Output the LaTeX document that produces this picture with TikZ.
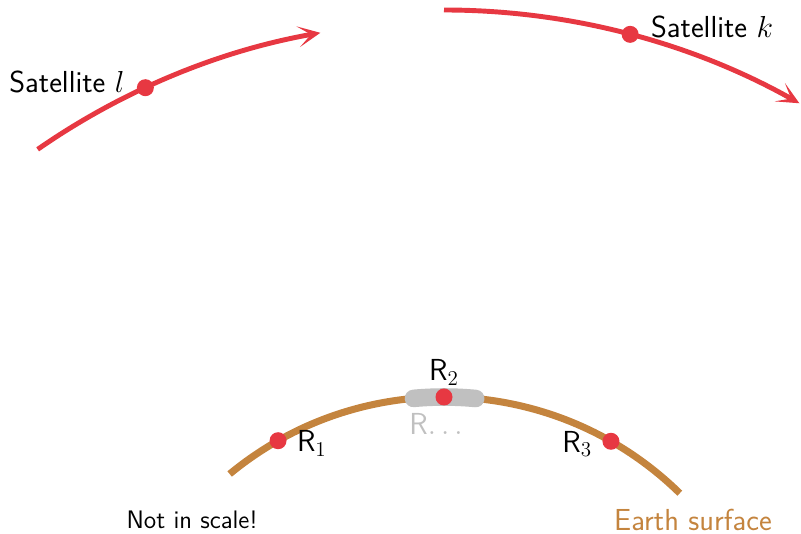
\documentclass[tikz,border=0pt]{standalone}
\usetikzlibrary{positioning,arrows.meta}

\definecolor{satred}{RGB}{231,56,66}
\definecolor{earthbrown}{RGB}{196,132,62}
\definecolor{relaygray}{RGB}{192,192,192}

\begin{document}
\begin{tikzpicture}[
  font=\sffamily\fontsize{17.3}{20}\selectfont,
  orbit/.style={draw=satred,line width=2.8pt,-{Stealth[length=4.5mm,width=4.2mm,inset=2.6mm]}},
  ground/.style={draw=earthbrown,line width=4pt},
  relayband/.style={draw=relaygray,line width=10pt,line cap=round},
  dot/.style={circle,fill=satred,minimum size=0.34cm,inner sep=0pt},
  lbl/.style={inner sep=1pt}
]
\useasboundingbox (-8.88,4.0) rectangle (7.14,14.68);
% earth surface and the relay band
\draw[ground] (129.5:6.74) arc[start angle=129.5,end angle=45.6,radius=6.74];
\draw[relayband] (95.2:6.74) arc[start angle=95.2,end angle=84.6,radius=6.74];
% satellite orbits
\draw[orbit] (124.8:14.24) arc[start angle=124.8,end angle=100,radius=14.24];
\draw[orbit] (90:14.48) arc[start angle=90,end angle=60.6,radius=14.48];
% satellites
\node[dot] (satl) at (114.8:14.24) {};
\node[dot] (satk) at (75.1:14.48) {};
\node[lbl,left=0.2cm of satl,yshift=0.12cm] (labl) {Satellite $l$};
\node[lbl,right=0.2cm of satk,yshift=0.15cm] (labk) {Satellite $k$};
% receivers
\node[dot] (r1) at (119.5:6.74) {};
\node[dot] (r2) at (90:6.74) {};
\node[dot] (r3) at (60.3:6.74) {};
\node[lbl,right=0.16cm of r1,yshift=-0.05cm] (labr1) {R$_1$};
\node[lbl,above=0.02cm of r2] (labr2) {R$_2$};
\node[lbl,left=0.16cm of r3,yshift=-0.05cm] (labr3) {R$_3$};
\node[lbl,below=0.1cm of r2,xshift=-0.16cm,text=relaygray] (labrx) {R$\ldots$};
% notes
\node[lbl,font=\sffamily\Large] (note) at (-5.04,4.28) {Not in scale!};
\node[lbl,text=earthbrown] (earth) at (4.98,4.28) {Earth surface};
\end{tikzpicture}
\end{document}
